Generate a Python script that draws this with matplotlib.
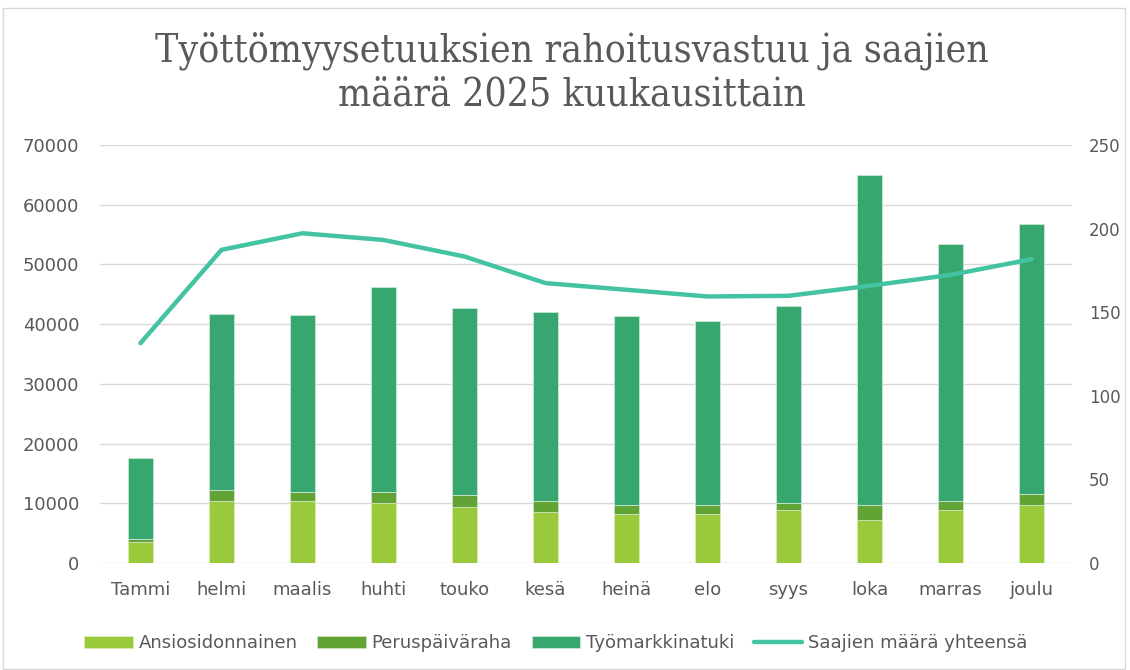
import matplotlib.pyplot as plt
import numpy as np
from matplotlib.patches import Rectangle

months = ["Tammi", "helmi", "maalis", "huhti", "touko", "kesä",
          "heinä", "elo", "syys", "loka", "marras", "joulu"]

# stacked bar segments (rahoitusvastuu)
ansio = [3520, 10400, 10400, 10070, 9450, 8560, 8220, 8220, 8830, 7210, 8830, 9780]
perus = [510, 1850, 1510, 1840, 1890, 1840, 1510, 1510, 1240, 2520, 1510, 1850]
tmt = [13470, 29530, 29580, 34230, 31330, 31650, 31710, 30760, 32930, 55250, 43020, 45130]

# line on secondary axis (saajien määrä)
saajat = [131.5, 187.3, 197.2, 193.2, 183.3, 167.4, 163.4, 159.4, 159.8, 165.8, 172.3, 181.7]

c_ansio = "#9aca3c"
c_perus = "#62a336"
c_tmt = "#37a66f"
c_line = "#43c3a2"
txt = "#595959"

fig = plt.figure(figsize=(11.3, 6.7), dpi=100)
ax = fig.add_axes([0.0885, 0.1597, 0.8602, 0.6239])
ax2 = ax.twinx()

x = np.arange(len(months))
w = 0.32
b1 = ax.bar(x, ansio, w, color=c_ansio, edgecolor="#d8ecb4", linewidth=0.6, label="Ansiosidonnainen", zorder=3)
b2 = ax.bar(x, perus, w, bottom=ansio, color=c_perus, edgecolor="#cfe3c3", linewidth=0.6, label="Peruspäiväraha", zorder=3)
bottom2 = [a + p for a, p in zip(ansio, perus)]
b3 = ax.bar(x, tmt, w, bottom=bottom2, color=c_tmt, edgecolor="#c7e8d6", linewidth=0.6, label="Työmarkkinatuki", zorder=3)

l1, = ax2.plot(x, saajat, color=c_line, linewidth=3.2, solid_capstyle="round",
               solid_joinstyle="round", label="Saajien määrä yhteensä", zorder=4)

ax.set_xlim(-0.5, len(months) - 0.5)
ax.set_ylim(0, 70000)
ax2.set_ylim(0, 250)
ax.set_yticks(range(0, 70001, 10000))
ax2.set_yticks(range(0, 251, 50))
ax.set_xticks(x)
ax.set_xticklabels(months)

ax.grid(axis="y", color="#d9d9d9", linewidth=1.0, zorder=0)
ax.set_axisbelow(True)
for a in (ax, ax2):
    for s in a.spines.values():
        s.set_visible(False)
    a.tick_params(length=0, colors=txt, labelsize=13)
ax.tick_params(axis="y", pad=15)
ax.tick_params(axis="x", pad=13)
ax2.tick_params(axis="y", pad=12, labelsize=12)

fig.text(0.506, 0.892, "Työttömyysetuuksien rahoitusvastuu ja saajien\nmäärä 2025 kuukausittain",
         ha="center", va="center", fontsize=28, color=txt, family="DejaVu Serif",
         fontstretch="condensed", linespacing=1.2)

fig.legend(handles=[b1, b2, b3, l1], loc="center", bbox_to_anchor=(0.492, 0.04),
           ncol=4, frameon=False, labelcolor=txt,
           handlelength=2.67, handleheight=0.67, columnspacing=1.1, handletextpad=0.33,
           prop={"size": 13})

fig.patches.append(Rectangle((0.003, 0.002), 0.993, 0.986, transform=fig.transFigure,
                             fill=False, edgecolor="#d9d9d9", linewidth=1.0))

fig.savefig("out.png", dpi=100)
